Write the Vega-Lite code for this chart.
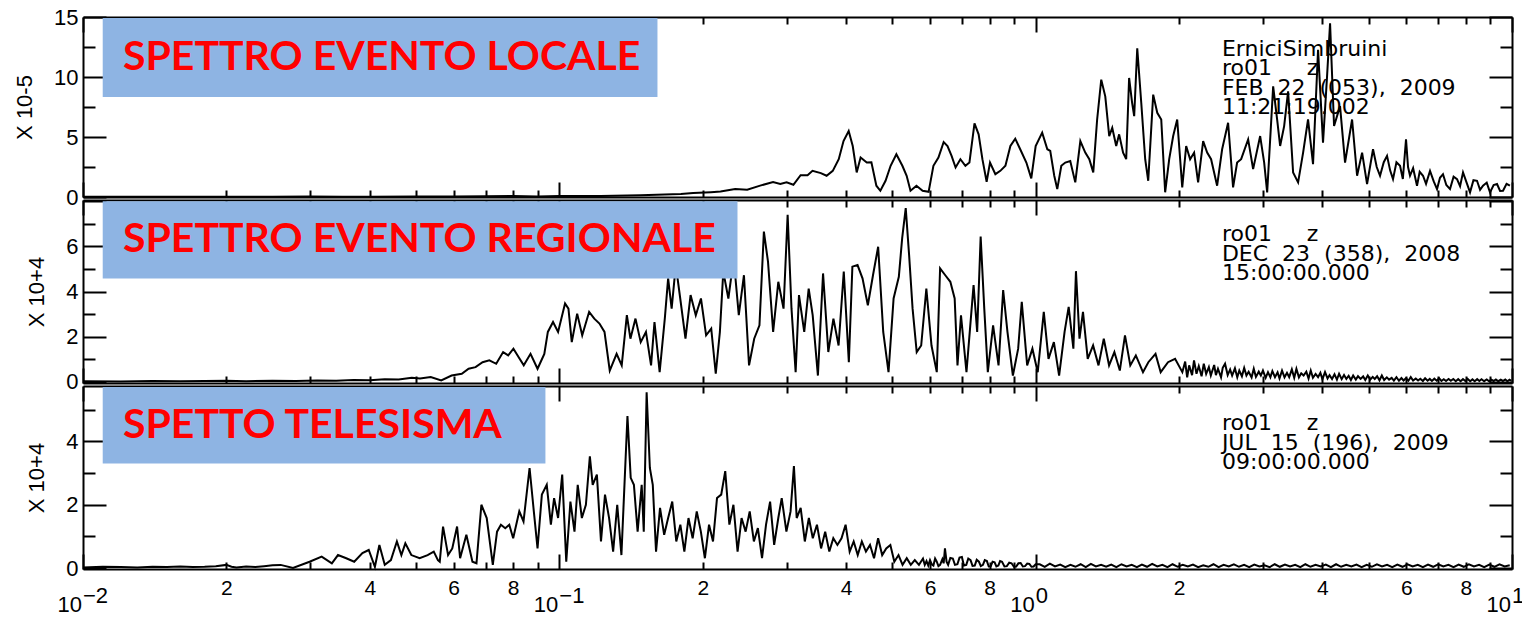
{
  "$schema": "https://vega.github.io/schema/vega-lite/v6.json",
  "background": "white",
  "padding": {"left": 13, "top": 6, "right": 0, "bottom": 0},
  "spacing": 3,
  "bounds": "flush",
  "config": {
    "view": {"stroke": null},
    "axis": {
      "grid": false, "domainColor": "#000", "domainWidth": 2, "tickColor": "#000", "tickWidth": 2,
      "labelColor": "#000", "labelFont": "Liberation Sans", "titleFont": "Liberation Sans", "titleFontWeight": "normal",
      "titleColor": "#000", "labelOverlap": false, "labelFlush": false, "labelBound": false
    }
  },
  "datasets": {
    "p1": [
      {"f":0.01,"a":0.02},{"f":0.012,"a":0.03},{"f":0.015,"a":0.03},{"f":0.02,"a":0.02},{"f":0.025,"a":0.03},{"f":0.03,"a":0.04},{"f":0.035,"a":0.03},{"f":0.04,"a":0.03},{"f":0.05,"a":0.05},{"f":0.06,"a":0.04},{"f":0.07,"a":0.06},{"f":0.08,"a":0.08},{"f":0.09,"a":0.05},{"f":0.1,"a":0.08},
      {"f":0.122,"a":0.08},{"f":0.148,"a":0.15},{"f":0.18,"a":0.25},{"f":0.191,"a":0.33},{"f":0.208,"a":0.4},{"f":0.218,"a":0.45},{"f":0.234,"a":0.66},{"f":0.248,"a":0.6},{"f":0.264,"a":0.95},{"f":0.281,"a":1.24},{"f":0.291,"a":1.08},{"f":0.3,"a":1.22},{"f":0.31,"a":1.02},{"f":0.321,"a":1.82},{"f":0.332,"a":1.82},{"f":0.34,"a":2.18},{"f":0.354,"a":1.99},{"f":0.364,"a":1.77},{"f":0.375,"a":2.18},{"f":0.386,"a":3.15},{"f":0.395,"a":4.66},{"f":0.405,"a":5.5},{"f":0.413,"a":4.25},{"f":0.421,"a":2.05},{"f":0.429,"a":3.29},{"f":0.442,"a":2.87},{"f":0.452,"a":2.9},{"f":0.463,"a":0.94},{"f":0.472,"a":0.52},{"f":0.484,"a":1.35},{"f":0.496,"a":2.6},{"f":0.51,"a":3.56},{"f":0.525,"a":2.6},{"f":0.536,"a":1.77},{"f":0.546,"a":0.52},{"f":0.562,"a":0.94},{"f":0.579,"a":0.52},{"f":0.596,"a":0.43},{"f":0.61,"a":2.6},{"f":0.625,"a":3.29},{"f":0.641,"a":4.58},{"f":0.653,"a":4.25},{"f":0.666,"a":3.43},{"f":0.679,"a":2.46},{"f":0.695,"a":3.15},{"f":0.712,"a":2.6},{"f":0.726,"a":2.87},{"f":0.744,"a":6.13},{"f":0.759,"a":5.22},{"f":0.773,"a":3.15},{"f":0.789,"a":1.27},{"f":0.802,"a":2.87},{"f":0.823,"a":1.9},{"f":0.843,"a":2.18},{"f":0.864,"a":2.6},{"f":0.885,"a":4.25},{"f":0.906,"a":4.86},{"f":0.928,"a":3.98},{"f":0.956,"a":2.87},{"f":0.979,"a":1.55},{"f":1.0,"a":4.25},
      {"f":1.032,"a":5.36},{"f":1.058,"a":3.98},{"f":1.073,"a":3.84},{"f":1.094,"a":1.77},{"f":1.11,"a":0.66},{"f":1.132,"a":2.6},{"f":1.154,"a":2.87},{"f":1.182,"a":3.0},{"f":1.211,"a":1.22},{"f":1.241,"a":4.66},{"f":1.271,"a":3.7},{"f":1.296,"a":3.15},{"f":1.321,"a":2.05},{"f":1.346,"a":6.46},{"f":1.373,"a":9.78},{"f":1.4,"a":8.39},{"f":1.427,"a":5.08},{"f":1.448,"a":5.77},{"f":1.476,"a":4.25},{"f":1.497,"a":5.22},{"f":1.526,"a":3.7},{"f":1.549,"a":3.15},{"f":1.571,"a":9.92},{"f":1.594,"a":7.85},{"f":1.61,"a":6.74},{"f":1.634,"a":12.4},{"f":1.666,"a":7.85},{"f":1.698,"a":3.15},{"f":1.723,"a":1.35},{"f":1.765,"a":8.53},{"f":1.8,"a":7.02},{"f":1.835,"a":6.46},{"f":1.87,"a":0.39},{"f":1.907,"a":3.15},{"f":1.944,"a":5.08},{"f":1.982,"a":6.46},{"f":2.031,"a":0.8},{"f":2.07,"a":4.25},{"f":2.11,"a":3.15},{"f":2.151,"a":3.7},{"f":2.193,"a":1.22},{"f":2.247,"a":4.66},{"f":2.291,"a":3.7},{"f":2.335,"a":3.15},{"f":2.404,"a":0.94},{"f":2.463,"a":3.98},{"f":2.535,"a":6.19},{"f":2.597,"a":0.8},{"f":2.648,"a":2.87},{"f":2.7,"a":3.15},{"f":2.793,"a":4.8},{"f":2.861,"a":2.32},{"f":2.96,"a":5.08},{"f":3.018,"a":2.87},{"f":3.062,"a":0.39},{"f":3.152,"a":9.22},{"f":3.213,"a":6.46},{"f":3.26,"a":4.25},{"f":3.324,"a":5.91},{"f":3.388,"a":8.81},{"f":3.471,"a":2.05},{"f":3.556,"a":1.22},{"f":3.643,"a":3.7},{"f":3.731,"a":6.46},{"f":3.822,"a":2.73},{"f":3.916,"a":12.26},{"f":4.011,"a":4.53},{"f":4.09,"a":10.05},{"f":4.15,"a":14.47},{"f":4.231,"a":5.91},{"f":4.355,"a":7.57},{"f":4.462,"a":2.87},{"f":4.616,"a":6.46},{"f":4.729,"a":1.77},{"f":4.845,"a":3.7},{"f":4.963,"a":1.08},
      {"f":5.108,"a":3.98},{"f":5.2,"a":2.5},{"f":5.284,"a":1.77},{"f":5.38,"a":2.9},{"f":5.466,"a":3.43},{"f":5.55,"a":2.2},{"f":5.626,"a":1.49},{"f":5.72,"a":2.9},{"f":5.82,"a":2.6},{"f":5.9,"a":1.5},{"f":5.991,"a":4.8},{"f":6.05,"a":2.5},{"f":6.108,"a":1.77},{"f":6.2,"a":2.4},{"f":6.318,"a":0.94},{"f":6.4,"a":2.1},{"f":6.504,"a":1.77},{"f":6.6,"a":1.1},{"f":6.728,"a":2.18},{"f":6.85,"a":1.3},{"f":6.96,"a":0.66},{"f":7.06,"a":1.6},{"f":7.164,"a":1.9},{"f":7.28,"a":1.0},{"f":7.411,"a":0.66},{"f":7.54,"a":1.7},{"f":7.666,"a":1.49},{"f":7.78,"a":0.9},{"f":7.892,"a":2.05},{"f":8.03,"a":1.2},{"f":8.164,"a":0.39},{"f":8.3,"a":1.4},{"f":8.444,"a":1.35},{"f":8.57,"a":0.6},{"f":8.693,"a":0.94},{"f":8.85,"a":1.2},{"f":8.992,"a":0.39},{"f":9.15,"a":1.0},{"f":9.302,"a":1.08},{"f":9.44,"a":0.5},{"f":9.575,"a":0.52},{"f":9.74,"a":1.1},{"f":9.9,"a":0.94}
    ],
    "p2": [
      {"f":0.01,"a":0.03},{"f":0.012,"a":0.02},{"f":0.014,"a":0.04},{"f":0.016,"a":0.03},{"f":0.018,"a":0.04},{"f":0.02,"a":0.05},{"f":0.022,"a":0.03},{"f":0.025,"a":0.05},{"f":0.028,"a":0.04},{"f":0.031,"a":0.06},{"f":0.034,"a":0.05},{"f":0.037,"a":0.08},{"f":0.04,"a":0.07},{"f":0.043,"a":0.12},{"f":0.046,"a":0.1},{"f":0.049,"a":0.18},{"f":0.051,"a":0.15},
      {"f":0.0537,"a":0.21},{"f":0.0565,"a":0.06},{"f":0.0594,"a":0.28},{"f":0.0624,"a":0.36},{"f":0.0645,"a":0.58},{"f":0.0667,"a":0.65},{"f":0.069,"a":0.87},{"f":0.0713,"a":0.95},{"f":0.0737,"a":0.8},{"f":0.0762,"a":1.32},{"f":0.0781,"a":1.17},{"f":0.0801,"a":1.47},{"f":0.0821,"a":1.1},{"f":0.0842,"a":0.73},{"f":0.087,"a":1.24},{"f":0.09,"a":0.58},{"f":0.093,"a":1.24},{"f":0.0946,"a":2.21},{"f":0.097,"a":2.65},{"f":0.0994,"a":2.21},{"f":0.1028,"a":3.47},{"f":0.1045,"a":3.24},{"f":0.1062,"a":1.76},{"f":0.109,"a":3.02},{"f":0.1117,"a":2.06},{"f":0.1155,"a":3.1},{"f":0.1184,"a":2.8},{"f":0.1214,"a":2.58},{"f":0.1244,"a":2.21},{"f":0.1276,"a":0.5},{"f":0.1319,"a":1.24},{"f":0.1352,"a":0.73},{"f":0.1386,"a":2.95},{"f":0.141,"a":1.91},{"f":0.1445,"a":2.8},{"f":0.1482,"a":1.76},{"f":0.152,"a":2.21},{"f":0.1558,"a":0.73},{"f":0.1584,"a":2.65},{"f":0.1624,"a":0.43},{"f":0.1665,"a":2.8},{"f":0.1692,"a":4.58},{"f":0.1721,"a":3.24},{"f":0.1756,"a":5.17},{"f":0.1794,"a":3.69},{"f":0.184,"a":1.91},{"f":0.1886,"a":3.84},{"f":0.1934,"a":2.95},{"f":0.1983,"a":3.69},{"f":0.2033,"a":2.06},{"f":0.2084,"a":2.36},{"f":0.213,"a":0.36},{"f":0.2173,"a":2.21},{"f":0.2209,"a":4.88},{"f":0.2264,"a":3.69},{"f":0.2323,"a":5.47},{"f":0.2381,"a":2.95},{"f":0.2441,"a":4.72},{"f":0.2502,"a":0.73},{"f":0.2565,"a":1.91},{"f":0.2631,"a":2.5},{"f":0.2688,"a":6.65},{"f":0.2742,"a":5.32},{"f":0.2811,"a":2.21},{"f":0.2882,"a":4.43},{"f":0.2956,"a":3.24},{"f":0.3015,"a":7.39},{"f":0.3072,"a":3.24},{"f":0.3134,"a":0.43},{"f":0.3185,"a":3.84},{"f":0.3267,"a":2.21},{"f":0.3338,"a":4.13},{"f":0.3403,"a":2.95},{"f":0.349,"a":0.28},{"f":0.3578,"a":4.8},{"f":0.367,"a":1.32},{"f":0.3762,"a":2.8},{"f":0.3857,"a":1.61},{"f":0.3955,"a":4.88},{"f":0.4053,"a":0.87},{"f":0.4123,"a":5.1},{"f":0.4227,"a":5.17},{"f":0.433,"a":4.58},{"f":0.4443,"a":3.39},{"f":0.4555,"a":4.72},{"f":0.467,"a":5.98},{"f":0.4786,"a":2.21},{"f":0.491,"a":0.43},{"f":0.5032,"a":3.69},{"f":0.5161,"a":4.65},{"f":0.5245,"a":6.36},{"f":0.5336,"a":7.69},{"f":0.5424,"a":5.61},{"f":0.5516,"a":3.24},{"f":0.5627,"a":1.32},{"f":0.575,"a":1.61},{"f":0.5895,"a":4.13},{"f":0.6044,"a":1.61},{"f":0.62,"a":0.43},{"f":0.63,"a":5.02},{"f":0.646,"a":4.72},
      {"f":0.662,"a":4.43},{"f":0.676,"a":3.69},{"f":0.6853,"a":0.73},{"f":0.697,"a":2.95},{"f":0.7157,"a":0.43},{"f":0.7407,"a":4.28},{"f":0.7537,"a":2.21},{"f":0.7665,"a":6.43},{"f":0.78,"a":3.24},{"f":0.7935,"a":0.43},{"f":0.814,"a":2.5},{"f":0.8357,"a":0.73},{"f":0.8546,"a":4.06},{"f":0.8725,"a":2.21},{"f":0.8957,"a":0.28},{"f":0.9189,"a":1.47},{"f":0.935,"a":3.54},{"f":0.9597,"a":0.73},{"f":0.9844,"a":1.47},{"f":1.01,"a":0.43},{"f":1.04,"a":3.1},{"f":1.064,"a":1.02},{"f":1.092,"a":1.76},{"f":1.12,"a":0.28},{"f":1.15,"a":2.21},{"f":1.173,"a":3.32},{"f":1.2,"a":1.47},{"f":1.215,"a":4.9},{"f":1.236,"a":1.91},{"f":1.257,"a":3.1},{"f":1.286,"a":1.02},{"f":1.32,"a":1.61},{"f":1.355,"a":0.73},{"f":1.39,"a":1.91},{"f":1.426,"a":0.73},{"f":1.463,"a":1.32},{"f":1.502,"a":0.5},{"f":1.54,"a":2.06},{"f":1.58,"a":0.73},{"f":1.623,"a":1.17},{"f":1.68,"a":0.43},{"f":1.724,"a":0.87},{"f":1.785,"a":1.24},{"f":1.83,"a":0.43},{"f":1.896,"a":0.87},{"f":1.962,"a":1.02},
      {"f":2.032,"a":0.43},{"f":2.06,"a":0.9},{"f":2.08,"a":0.2},{"f":2.1,"a":0.73},{"f":2.13,"a":0.3},{"f":2.15,"a":0.95},{"f":2.176,"a":0.36},{"f":2.2,"a":0.7},{"f":2.23,"a":0.25},{"f":2.254,"a":0.8},{"f":2.28,"a":0.35},{"f":2.31,"a":0.65},{"f":2.332,"a":0.28},{"f":2.37,"a":0.75},{"f":2.39,"a":0.3},{"f":2.414,"a":0.58},{"f":2.45,"a":0.2},{"f":2.47,"a":0.62},{"f":2.498,"a":0.8},{"f":2.53,"a":0.3},{"f":2.56,"a":0.55},{"f":2.585,"a":0.28},{"f":2.62,"a":0.6},{"f":2.65,"a":0.2},{"f":2.676,"a":0.5},{"f":2.71,"a":0.25},{"f":2.74,"a":0.62},{"f":2.77,"a":0.28},{"f":2.8,"a":0.45},{"f":2.84,"a":0.2},{"f":2.87,"a":0.58},{"f":2.9,"a":0.22},{"f":2.94,"a":0.45},{"f":2.97,"a":0.28},{"f":3.0,"a":0.5},{"f":3.04,"a":0.18},{"f":3.074,"a":0.43},{"f":3.11,"a":0.2},{"f":3.14,"a":0.48},{"f":3.18,"a":0.21},{"f":3.22,"a":0.42},{"f":3.25,"a":0.15},{"f":3.29,"a":0.5},{"f":3.33,"a":0.2},{"f":3.37,"a":0.4},{"f":3.406,"a":0.21},{"f":3.45,"a":0.55},{"f":3.49,"a":0.18},{"f":3.527,"a":0.58},{"f":3.57,"a":0.2},{"f":3.61,"a":0.38},{"f":3.652,"a":0.28},{"f":3.7,"a":0.45},{"f":3.74,"a":0.15},{"f":3.78,"a":0.5},{"f":3.82,"a":0.18},{"f":3.87,"a":0.35},{"f":3.916,"a":0.21},{"f":3.96,"a":0.4},{"f":4.0,"a":0.12},{"f":4.05,"a":0.43},{"f":4.1,"a":0.15},{"f":4.14,"a":0.3},{"f":4.19,"a":0.13},{"f":4.24,"a":0.34},{"f":4.29,"a":0.1},{"f":4.335,"a":0.36},{"f":4.39,"a":0.12},{"f":4.44,"a":0.3},{"f":4.49,"a":0.13},{"f":4.54,"a":0.27},{"f":4.59,"a":0.08},{"f":4.64,"a":0.28},{"f":4.7,"a":0.1},{"f":4.75,"a":0.25},{"f":4.81,"a":0.13},{"f":4.87,"a":0.24},{"f":4.92,"a":0.08},{"f":4.98,"a":0.28},{"f":5.04,"a":0.1},{"f":5.1,"a":0.22},{"f":5.15,"a":0.13},{"f":5.21,"a":0.25},{"f":5.27,"a":0.07},{"f":5.33,"a":0.28},{"f":5.39,"a":0.08},{"f":5.46,"a":0.2},{"f":5.52,"a":0.1},{"f":5.59,"a":0.18},{"f":5.65,"a":0.06},{"f":5.72,"a":0.21},{"f":5.79,"a":0.05},{"f":5.86,"a":0.17},{"f":5.92,"a":0.06},{"f":5.99,"a":0.16},{"f":6.06,"a":0.05},{"f":6.13,"a":0.21},{"f":6.2,"a":0.06},{"f":6.28,"a":0.15},{"f":6.35,"a":0.06},{"f":6.42,"a":0.14},{"f":6.5,"a":0.04},{"f":6.57,"a":0.16},{"f":6.65,"a":0.05},{"f":6.72,"a":0.13},{"f":6.79,"a":0.04},{"f":6.87,"a":0.14},{"f":6.95,"a":0.05},{"f":7.03,"a":0.16},{"f":7.11,"a":0.04},{"f":7.19,"a":0.12},{"f":7.27,"a":0.04},{"f":7.36,"a":0.13},{"f":7.44,"a":0.05},{"f":7.53,"a":0.13},{"f":7.62,"a":0.03},{"f":7.71,"a":0.12},{"f":7.8,"a":0.03},{"f":7.89,"a":0.12},{"f":7.98,"a":0.04},{"f":8.07,"a":0.13},{"f":8.17,"a":0.03},{"f":8.26,"a":0.11},{"f":8.35,"a":0.03},{"f":8.45,"a":0.12},{"f":8.54,"a":0.04},{"f":8.63,"a":0.12},{"f":8.74,"a":0.03},{"f":8.85,"a":0.11},{"f":8.95,"a":0.03},{"f":9.05,"a":0.1},{"f":9.15,"a":0.04},{"f":9.25,"a":0.11},{"f":9.36,"a":0.03},{"f":9.47,"a":0.1},{"f":9.57,"a":0.04},{"f":9.68,"a":0.11},{"f":9.78,"a":0.03},{"f":9.88,"a":0.1},{"f":9.97,"a":0.05}
    ],
    "p3": [
      {"f":0.01,"a":0.02},{"f":0.011,"a":0.04},{"f":0.012,"a":0.03},{"f":0.013,"a":0.02},{"f":0.014,"a":0.04},{"f":0.015,"a":0.03},{"f":0.016,"a":0.05},{"f":0.017,"a":0.03},{"f":0.018,"a":0.04},{"f":0.019,"a":0.06},{"f":0.02,"a":0.1},{"f":0.0205,"a":0.04},{"f":0.021,"a":0.02},{"f":0.022,"a":0.05},{"f":0.023,"a":0.03},{"f":0.024,"a":0.06},{"f":0.025,"a":0.09},
      {"f":0.026,"a":0.1},{"f":0.0276,"a":0.0},{"f":0.0299,"a":0.2},{"f":0.0317,"a":0.36},{"f":0.0333,"a":0.15},{"f":0.0343,"a":0.41},{"f":0.0357,"a":0.31},{"f":0.0371,"a":0.2},{"f":0.0386,"a":0.47},{"f":0.0398,"a":0.57},{"f":0.041,"a":0.04},{"f":0.0419,"a":0.73},{"f":0.043,"a":0.1},{"f":0.0443,"a":0.25},{"f":0.0456,"a":0.84},{"f":0.0466,"a":0.41},{"f":0.0475,"a":0.78},{"f":0.0489,"a":0.41},{"f":0.0509,"a":0.31},{"f":0.0529,"a":0.41},{"f":0.0545,"a":0.52},{"f":0.0556,"a":0.25},{"f":0.0561,"a":0.2},{"f":0.057,"a":1.31},{"f":0.0584,"a":0.41},{"f":0.0596,"a":0.62},{"f":0.061,"a":1.31},{"f":0.0619,"a":0.31},{"f":0.0638,"a":1.05},{"f":0.0657,"a":0.2},{"f":0.067,"a":0.15},{"f":0.0686,"a":2.0},{"f":0.0704,"a":1.58},{"f":0.0725,"a":0.1},{"f":0.074,"a":1.15},{"f":0.0754,"a":1.37},{"f":0.077,"a":1.26},{"f":0.0785,"a":1.37},{"f":0.08,"a":0.94},{"f":0.0824,"a":1.79},{"f":0.0841,"a":1.47},{"f":0.0866,"a":3.16},{"f":0.0884,"a":1.79},{"f":0.09,"a":0.62},{"f":0.0919,"a":2.32},{"f":0.0941,"a":2.63},{"f":0.096,"a":1.37},{"f":0.0975,"a":2.21},{"f":0.0994,"a":1.58},{"f":0.1014,"a":2.95},{"f":0.1034,"a":0.2},{"f":0.1055,"a":2.1},{"f":0.1076,"a":1.15},{"f":0.1093,"a":2.63},{"f":0.1115,"a":1.58},{"f":0.1137,"a":2.0},{"f":0.1159,"a":3.53},{"f":0.1175,"a":2.63},{"f":0.1199,"a":2.95},{"f":0.1223,"a":0.84},{"f":0.1247,"a":2.32},{"f":0.1272,"a":1.58},{"f":0.1297,"a":0.52},{"f":0.1323,"a":2.0},{"f":0.135,"a":0.41},{"f":0.139,"a":4.8},{"f":0.1412,"a":2.85},{"f":0.1434,"a":2.63},{"f":0.146,"a":1.15},{"f":0.1489,"a":2.63},{"f":0.1504,"a":1.15},{"f":0.1525,"a":5.55},{"f":0.1549,"a":3.16},{"f":0.1571,"a":2.63},{"f":0.1596,"a":0.52},{"f":0.1627,"a":1.9},{"f":0.166,"a":1.05},{"f":0.1692,"a":1.58},{"f":0.1726,"a":2.1},{"f":0.176,"a":0.84},{"f":0.1795,"a":1.37},{"f":0.183,"a":0.52},{"f":0.1867,"a":1.58},{"f":0.1905,"a":0.94},{"f":0.1943,"a":1.79},{"f":0.1982,"a":1.15},{"f":0.2021,"a":0.31},{"f":0.2062,"a":1.37},{"f":0.2102,"a":0.84},{"f":0.2143,"a":2.21},{"f":0.2187,"a":2.32},{"f":0.223,"a":3.06},{"f":0.2275,"a":1.37},{"f":0.232,"a":2.0},{"f":0.2367,"a":0.52},{"f":0.2413,"a":1.58},{"f":0.2461,"a":1.15},{"f":0.251,"a":1.79},{"f":0.2561,"a":0.84},{"f":0.2611,"a":1.26},{"f":0.2664,"a":0.31},{"f":0.2716,"a":1.37},{"f":0.277,"a":2.1},{"f":0.2825,"a":0.73},{"f":0.2882,"a":1.58},{"f":0.293,"a":2.21},{"f":0.2997,"a":1.15},{"f":0.3058,"a":1.79},{"f":0.3108,"a":3.22},{"f":0.315,"a":1.58},{"f":0.3211,"a":1.9},{"f":0.3276,"a":0.84},{"f":0.3341,"a":1.58},{"f":0.3405,"a":0.94},{"f":0.3474,"a":1.37},{"f":0.3544,"a":0.62},{"f":0.3615,"a":1.15},{"f":0.3688,"a":0.52},{"f":0.376,"a":0.94},{"f":0.3835,"a":0.73},{"f":0.3912,"a":0.94},{"f":0.399,"a":1.37},{"f":0.4069,"a":0.52},{"f":0.4149,"a":0.84},{"f":0.4231,"a":0.41},{"f":0.4316,"a":0.84},{"f":0.4402,"a":0.52},{"f":0.449,"a":0.73},{"f":0.4578,"a":0.31},{"f":0.4669,"a":0.94},{"f":0.4762,"a":0.41},{"f":0.4856,"a":0.62},{"f":0.4954,"a":0.73},{"f":0.505,"a":0.2},{"f":0.5153,"a":0.41},{"f":0.5255,"a":0.1},{"f":0.5362,"a":0.31},{"f":0.5468,"a":0.1},{"f":0.5575,"a":0.25},{"f":0.5688,"a":0.1},
      {"f":0.58,"a":0.3},{"f":0.585,"a":0.1},{"f":0.59,"a":0.22},{"f":0.595,"a":0.08},{"f":0.6,"a":0.25},{"f":0.605,"a":0.12},{"f":0.61,"a":0.08},{"f":0.615,"a":0.3},{"f":0.62,"a":0.2},{"f":0.625,"a":0.06},{"f":0.63,"a":0.1},{"f":0.637,"a":0.28},{"f":0.641,"a":0.15},{"f":0.645,"a":0.62},{"f":0.65,"a":0.2},{"f":0.655,"a":0.1},{"f":0.662,"a":0.32},{"f":0.67,"a":0.3},{"f":0.677,"a":0.1},{"f":0.685,"a":0.12},{"f":0.692,"a":0.33},{"f":0.7,"a":0.35},{"f":0.707,"a":0.08},{"f":0.715,"a":0.1},{"f":0.722,"a":0.3},{"f":0.73,"a":0.25},{"f":0.737,"a":0.07},{"f":0.745,"a":0.08},{"f":0.752,"a":0.26},{"f":0.76,"a":0.2},{"f":0.767,"a":0.06},{"f":0.775,"a":0.1},{"f":0.782,"a":0.25},{"f":0.79,"a":0.22},{"f":0.797,"a":0.05},{"f":0.805,"a":0.06},{"f":0.812,"a":0.2},{"f":0.82,"a":0.18},{"f":0.827,"a":0.05},{"f":0.835,"a":0.08},{"f":0.842,"a":0.22},{"f":0.85,"a":0.2},{"f":0.86,"a":0.05},{"f":0.87,"a":0.06},{"f":0.88,"a":0.17},{"f":0.89,"a":0.15},{"f":0.9,"a":0.04},{"f":0.91,"a":0.05},{"f":0.92,"a":0.15},{"f":0.93,"a":0.16},{"f":0.94,"a":0.05},{"f":0.95,"a":0.06},{"f":0.96,"a":0.14},{"f":0.97,"a":0.13},{"f":0.98,"a":0.04},{"f":0.99,"a":0.05},{"f":1.0,"a":0.12},
      {"f":1.02,"a":0.12},{"f":1.045,"a":0.04},{"f":1.071,"a":0.14},{"f":1.098,"a":0.05},{"f":1.126,"a":0.11},{"f":1.154,"a":0.03},{"f":1.183,"a":0.1},{"f":1.212,"a":0.04},{"f":1.243,"a":0.12},{"f":1.274,"a":0.03},{"f":1.306,"a":0.13},{"f":1.338,"a":0.05},{"f":1.372,"a":0.1},{"f":1.406,"a":0.04},{"f":1.441,"a":0.11},{"f":1.477,"a":0.03},{"f":1.514,"a":0.12},{"f":1.552,"a":0.05},{"f":1.591,"a":0.1},{"f":1.631,"a":0.03},{"f":1.671,"a":0.11},{"f":1.713,"a":0.04},{"f":1.756,"a":0.13},{"f":1.8,"a":0.05},{"f":1.845,"a":0.1},{"f":1.891,"a":0.03},{"f":1.938,"a":0.12},{"f":1.987,"a":0.04},{"f":2.036,"a":0.1},{"f":2.087,"a":0.05},{"f":2.139,"a":0.11},{"f":2.193,"a":0.03},{"f":2.248,"a":0.09},{"f":2.304,"a":0.04},{"f":2.362,"a":0.12},{"f":2.421,"a":0.03},{"f":2.481,"a":0.1},{"f":2.543,"a":0.05},{"f":2.607,"a":0.12},{"f":2.672,"a":0.04},{"f":2.739,"a":0.1},{"f":2.807,"a":0.03},{"f":2.877,"a":0.11},{"f":2.949,"a":0.05},{"f":3.023,"a":0.09},{"f":3.099,"a":0.03},{"f":3.176,"a":0.12},{"f":3.256,"a":0.04},{"f":3.337,"a":0.11},{"f":3.42,"a":0.05},{"f":3.506,"a":0.1},{"f":3.594,"a":0.03},{"f":3.683,"a":0.12},{"f":3.775,"a":0.04},{"f":3.87,"a":0.1},{"f":3.967,"a":0.05},{"f":4.066,"a":0.11},{"f":4.167,"a":0.03},{"f":4.272,"a":0.12},{"f":4.378,"a":0.04},{"f":4.488,"a":0.1},{"f":4.6,"a":0.05},{"f":4.715,"a":0.11},{"f":4.833,"a":0.03},{"f":4.954,"a":0.1},{"f":5.078,"a":0.04},{"f":5.205,"a":0.12},{"f":5.335,"a":0.05},{"f":5.468,"a":0.1},{"f":5.605,"a":0.03},{"f":5.745,"a":0.11},{"f":5.889,"a":0.04},{"f":6.036,"a":0.12},{"f":6.187,"a":0.05},{"f":6.342,"a":0.1},{"f":6.5,"a":0.03},{"f":6.663,"a":0.11},{"f":6.829,"a":0.04},{"f":7.0,"a":0.12},{"f":7.175,"a":0.05},{"f":7.354,"a":0.1},{"f":7.538,"a":0.03},{"f":7.727,"a":0.11},{"f":7.92,"a":0.04},{"f":8.118,"a":0.12},{"f":8.321,"a":0.05},{"f":8.529,"a":0.1},{"f":8.742,"a":0.03},{"f":8.961,"a":0.11},{"f":9.185,"a":0.04},{"f":9.415,"a":0.12},{"f":9.65,"a":0.05},{"f":9.891,"a":0.09}
    ]
  },
  "vconcat": [
    {
      "width": 1429, "height": 180,
      "layer": [
        {
          "data": {"name": "p1"},
          "mark": {"type": "line", "color": "#000", "strokeWidth": 2},
          "encoding": {
            "x": {"field": "f", "type": "quantitative", "scale": {"type": "log", "domain": [0.01, 10], "nice": false},
              "axis": {"orient": "bottom", "title": null, "labels": false, "tickSize": -15, "values": [0.01, 0.1, 1, 10]}},
            "y": {"field": "a", "type": "quantitative", "scale": {"domain": [0, 15], "nice": false, "zero": false},
              "axis": {"orient": "left", "title": "X 10-5", "titleFontSize": 22, "titlePadding": 17, "labelFontSize": 22, "labelPadding": 28, "tickSize": -23,
                "values": [0, 5, 10, 15], "labelExpr": "'' + datum.value"}}
          }
        },
        {
          "data": {"values": [{"label": "SPETTRO EVENTO LOCALE"}]},
          "mark": {"type": "rect", "color": "#8EB4E3"},
          "encoding": {
            "x": {"datum": 0.011, "type": "quantitative",
              "axis": {"orient": "top", "title": null, "labels": false, "tickSize": -15, "values": [0.01, 0.1, 1, 10]}},
            "x2": {"datum": 0.1607},
            "y": {"datum": 8.33, "type": "quantitative",
              "axis": {"orient": "right", "title": null, "labels": false, "tickSize": -23, "values": [0, 5, 10, 15]}},
            "y2": {"datum": 14.92}
          }
        },
        {
          "data": {"values": [{"label": "SPETTRO EVENTO LOCALE"}]},
          "mark": {"type": "text", "color": "#FF0000", "font": "Lato", "fontWeight": "bold", "fontSize": 41, "align": "left", "baseline": "middle"},
          "encoding": {
            "x": {"datum": 0.01213, "type": "quantitative",
              "axis": {"orient": "bottom", "title": null, "labels": false, "domain": false, "tickSize": -7, "values": [0.02,0.03,0.04,0.05,0.06,0.07,0.08,0.09,0.2,0.3,0.4,0.5,0.6,0.7,0.8,0.9,2,3,4,5,6,7,8,9]}},
            "y": {"datum": 11.58, "type": "quantitative",
              "axis": {"orient": "left", "title": null, "labels": false, "domain": false, "tickSize": -12, "values": [2.5, 7.5, 12.5]}},
            "text": {"field": "label"}
          }
        },
        {
          "data": {"values": [{"lines": ["ErniciSimbruini", "ro01\u00a0\u00a0\u00a0\u00a0\u00a0z", "FEB\u00a0\u00a022\u00a0\u00a0(053),\u00a0\u00a02009", "11:21:19.002"]}]},
          "mark": {"type": "text", "color": "#000", "font": "DejaVu Sans", "fontSize": 22, "align": "left", "baseline": "top", "lineHeight": 19.5},
          "encoding": {
            "x": {"datum": 2.46, "type": "quantitative",
              "axis": {"orient": "top", "title": null, "labels": false, "domain": false, "tickSize": -7, "values": [0.02,0.03,0.04,0.05,0.06,0.07,0.08,0.09,0.2,0.3,0.4,0.5,0.6,0.7,0.8,0.9,2,3,4,5,6,7,8,9]}},
            "y": {"datum": 13.17, "type": "quantitative",
              "axis": {"orient": "right", "title": null, "labels": false, "domain": false, "tickSize": -12, "values": [2.5, 7.5, 12.5]}},
            "text": {"field": "lines"}
          }
        }
      ]
    },
    {
      "width": 1429, "height": 183,
      "layer": [
        {
          "data": {"name": "p2"},
          "mark": {"type": "line", "color": "#000", "strokeWidth": 2},
          "encoding": {
            "x": {"field": "f", "type": "quantitative", "scale": {"type": "log", "domain": [0.01, 10], "nice": false},
              "axis": {"orient": "bottom", "title": null, "labels": false, "tickSize": -15, "values": [0.01, 0.1, 1, 10]}},
            "y": {"field": "a", "type": "quantitative", "scale": {"domain": [-0.05, 8.05], "nice": false, "zero": false},
              "axis": {"orient": "left", "title": "X 10+4", "titleFontSize": 22, "titlePadding": 17, "labelFontSize": 22, "labelPadding": 28, "tickSize": -23,
                "values": [0, 2, 4, 6, 8], "labelExpr": "datum.value < 8 ? '' + datum.value : ''"}}
          }
        },
        {
          "data": {"values": [{"label": "SPETTRO EVENTO REGIONALE"}]},
          "mark": {"type": "rect", "color": "#8EB4E3"},
          "encoding": {
            "x": {"datum": 0.011, "type": "quantitative",
              "axis": {"orient": "top", "title": null, "labels": false, "tickSize": -15, "values": [0.01, 0.1, 1, 10]}},
            "x2": {"datum": 0.2366},
            "y": {"datum": 4.58, "type": "quantitative",
              "axis": {"orient": "right", "title": null, "labels": false, "tickSize": -23, "values": [0, 2, 4, 6, 8]}},
            "y2": {"datum": 8.0}
          }
        },
        {
          "data": {"values": [{"label": "SPETTRO EVENTO REGIONALE"}]},
          "mark": {"type": "text", "color": "#FF0000", "font": "Lato", "fontWeight": "bold", "fontSize": 41, "align": "left", "baseline": "middle"},
          "encoding": {
            "x": {"datum": 0.01213, "type": "quantitative",
              "axis": {"orient": "bottom", "title": null, "labels": false, "domain": false, "tickSize": -7, "values": [0.02,0.03,0.04,0.05,0.06,0.07,0.08,0.09,0.2,0.3,0.4,0.5,0.6,0.7,0.8,0.9,2,3,4,5,6,7,8,9]}},
            "y": {"datum": 6.27, "type": "quantitative",
              "axis": {"orient": "left", "title": null, "labels": false, "domain": false, "tickSize": -12, "values": [1, 3, 5, 7]}},
            "text": {"field": "label"}
          }
        },
        {
          "data": {"values": [{"lines": ["ro01\u00a0\u00a0\u00a0\u00a0\u00a0z", "DEC\u00a0\u00a023\u00a0\u00a0(358),\u00a0\u00a02008", "15:00:00.000"]}]},
          "mark": {"type": "text", "color": "#000", "font": "DejaVu Sans", "fontSize": 22, "align": "left", "baseline": "top", "lineHeight": 19.5},
          "encoding": {
            "x": {"datum": 2.46, "type": "quantitative",
              "axis": {"orient": "top", "title": null, "labels": false, "domain": false, "tickSize": -7, "values": [0.02,0.03,0.04,0.05,0.06,0.07,0.08,0.09,0.2,0.3,0.4,0.5,0.6,0.7,0.8,0.9,2,3,4,5,6,7,8,9]}},
            "y": {"datum": 6.98, "type": "quantitative",
              "axis": {"orient": "right", "title": null, "labels": false, "domain": false, "tickSize": -12, "values": [1, 3, 5, 7]}},
            "text": {"field": "lines"}
          }
        }
      ]
    },
    {
      "width": 1429, "height": 183,
      "layer": [
        {
          "data": {"name": "p3"},
          "mark": {"type": "line", "color": "#000", "strokeWidth": 2},
          "encoding": {
            "x": {"field": "f", "type": "quantitative", "scale": {"type": "log", "domain": [0.01, 10], "nice": false},
              "axis": {"orient": "bottom", "title": null, "labels": false, "tickSize": -15, "values": [0.01, 0.1, 1, 10]}},
            "y": {"field": "a", "type": "quantitative", "scale": {"domain": [-0.03, 5.75], "nice": false, "zero": false},
              "axis": {"orient": "left", "title": "X 10+4", "titleFontSize": 22, "titlePadding": 17, "labelFontSize": 22, "labelPadding": 28, "tickSize": -23,
                "values": [0, 2, 4], "labelExpr": "'' + datum.value"}}
          }
        },
        {
          "data": {"values": [{"label": "SPETTO TELESISMA"}]},
          "mark": {"type": "rect", "color": "#8EB4E3"},
          "encoding": {
            "x": {"datum": 0.011, "type": "quantitative",
              "axis": {"orient": "top", "title": null, "labels": false, "tickSize": -15, "values": [0.01, 0.1, 1, 10]}},
            "x2": {"datum": 0.0935},
            "y": {"datum": 3.3, "type": "quantitative",
              "axis": {"orient": "right", "title": null, "labels": false, "tickSize": -23, "values": [0, 2, 4]}},
            "y2": {"datum": 5.72}
          }
        },
        {
          "data": {"values": [{"label": "SPETTO TELESISMA"}]},
          "mark": {"type": "text", "color": "#FF0000", "font": "Lato", "fontWeight": "bold", "fontSize": 41, "align": "left", "baseline": "middle"},
          "encoding": {
            "x": {"datum": 0.01213, "type": "quantitative",
              "axis": {"orient": "bottom", "title": null, "domain": false, "tickSize": -7, "labelFontSize": 21, "labelPadding": 15,
                "values": [0.02,0.03,0.04,0.05,0.06,0.07,0.08,0.09,0.2,0.3,0.4,0.5,0.6,0.7,0.8,0.9,2,3,4,5,6,7,8,9],
                "labelExpr": "round(datum.value / pow(10, floor(log(datum.value) / LN10 + 0.000001))) % 2 === 0 ? '' + round(datum.value / pow(10, floor(log(datum.value) / LN10 + 0.000001))) : ''"}},
            "y": {"datum": 4.48, "type": "quantitative",
              "axis": {"orient": "left", "title": null, "labels": false, "domain": false, "tickSize": -12, "values": [1, 3, 5]}},
            "text": {"field": "label"}
          }
        },
        {
          "data": {"values": [{"lines": ["ro01\u00a0\u00a0\u00a0\u00a0\u00a0z", "JUL\u00a0\u00a015\u00a0\u00a0(196),\u00a0\u00a02009", "09:00:00.000"]}]},
          "mark": {"type": "text", "color": "#000", "font": "DejaVu Sans", "fontSize": 22, "align": "left", "baseline": "top", "lineHeight": 19.5},
          "encoding": {
            "x": {"datum": 2.46, "type": "quantitative",
              "axis": {"orient": "top", "title": null, "labels": false, "domain": false, "tickSize": -7, "values": [0.02,0.03,0.04,0.05,0.06,0.07,0.08,0.09,0.2,0.3,0.4,0.5,0.6,0.7,0.8,0.9,2,3,4,5,6,7,8,9]}},
            "y": {"datum": 4.89, "type": "quantitative",
              "axis": {"orient": "right", "title": null, "labels": false, "domain": false, "tickSize": -12, "values": [1, 3, 5]}},
            "text": {"field": "lines"}
          }
        },
        {
          "data": {"values": [{"d": 0.01, "b": "10", "e": "\u22122"}, {"d": 0.1, "b": "10", "e": "\u22121"}, {"d": 1, "b": "10", "e": "0"}, {"d": 10, "b": "10", "e": "1"}]},
          "mark": {"type": "text", "color": "#000", "font": "Liberation Sans", "fontSize": 22, "align": "right", "baseline": "alphabetic", "dy": 43, "dx": -1},
          "encoding": {
            "x": {"field": "d", "type": "quantitative", "axis": null},
            "y": {"datum": -0.03, "type": "quantitative", "axis": null},
            "text": {"field": "b"}
          }
        },
        {
          "data": {"values": [{"d": 0.01, "b": "10", "e": "\u22122"}, {"d": 0.1, "b": "10", "e": "\u22121"}, {"d": 1, "b": "10", "e": "0"}, {"d": 10, "b": "10", "e": "1"}]},
          "mark": {"type": "text", "color": "#000", "font": "Liberation Sans", "fontSize": 22, "align": "left", "baseline": "alphabetic", "dy": 34, "dx": 0},
          "encoding": {
            "x": {"field": "d", "type": "quantitative", "axis": null},
            "y": {"datum": -0.03, "type": "quantitative", "axis": null},
            "text": {"field": "e"}
          }
        }
      ]
    }
  ]
}
